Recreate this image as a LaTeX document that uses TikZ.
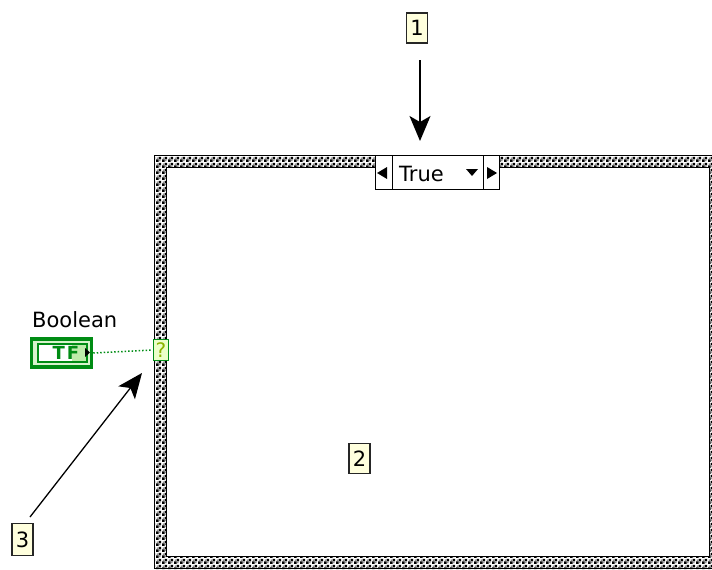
\documentclass[tikz,border=0pt]{standalone}
\usepackage{fontspec}
\setmainfont{DejaVu Sans}
\usetikzlibrary{arrows.meta,patterns.meta}
\definecolor{tgreen}{RGB}{0,140,20}
\definecolor{lightgr}{RGB}{190,235,170}
\definecolor{qfill}{RGB}{235,255,200}
\definecolor{qtext}{RGB}{140,180,0}
\definecolor{callout}{RGB}{255,255,221}
\tikzdeclarepattern{name=lvcheck,type=uncolored,
  bottom left={(0pt,0pt)},top right={(6pt,6pt)},tile size={(6pt,6pt)},
  code={\fill (0pt,0pt) rectangle (3pt,3pt); \fill (3pt,3pt) rectangle (6pt,6pt); \fill (1pt,4pt) rectangle (2pt,5pt); \fill (4pt,1pt) rectangle (5pt,2pt);}}
\tikzset{
  numbox/.style={draw=black!85,line width=1.5pt,fill=callout,minimum width=21pt,minimum height=30pt,inner sep=0pt,font=\fontsize{21}{24}\selectfont},
  callarrow/.style={draw=black,line width=1.3pt,-{Stealth[length=25pt,width=21pt,inset=6pt]}},
  lvtext/.style={font=\fontsize{21}{24}\selectfont,inner sep=0pt}
}
\begin{document}
\begin{tikzpicture}[x=1pt,y=-1pt]
\useasboundingbox (0,0) rectangle (712,570);
% case structure frame
\fill[white] (154,155) rectangle (725,569);
\fill[pattern=lvcheck,pattern color=black,even odd rule] (154,155) rectangle (725,569) (166,167) rectangle (709,556);
\draw[black,line width=1.5pt] (154.5,155.5) rectangle (725,568.5);
\draw[black,line width=1pt] (166,167) rectangle (709,556);
% selector
\node[draw=black,line width=1pt,fill=white,minimum width=124pt,minimum height=34pt,inner sep=0pt] (sel) at (437,172) {};
\draw[black,line width=1pt] (392,155) -- (392,189) (483,155) -- (483,189);
\fill[black] (377,173) -- (387,167) -- (387,179) -- cycle;
\fill[black] (497,173) -- (487,167) -- (487,179) -- cycle;
\fill[black] (466,169) -- (478,169) -- (472,176) -- cycle;
\node[lvtext,anchor=base west] (seltext) at (399,181) {True};
% callouts
\node[numbox] (n1) at (417,28) {1};
\node[numbox] (n2) at (359.5,458.5) {2};
\node[numbox,minimum height=32pt] (n3) at (22.5,539.5) {3};
\coordinate (t1) at (420,141);
\coordinate (s1) at (420,60);
\coordinate (t3) at (142,373);
\coordinate (s3) at (30,517);
\draw[callarrow] (s1) -- (t1);
\draw[callarrow] (s3) -- (t3);
% Boolean control terminal
\node[lvtext,anchor=base west] (blab) at (32,327) {Boolean};
\node[draw=tgreen,line width=3.5pt,fill=lightgr!60,minimum width=60pt,minimum height=28pt,inner sep=0pt] (bool) at (61.5,353) {};
\fill[white] (38,344) rectangle (87,362);
\fill[lightgr] (72,345) rectangle (87,361);
\draw[tgreen,line width=2pt] (38,344) rectangle (87,362);
\node[font=\bfseries\fontsize{18}{20}\selectfont,text=tgreen,inner sep=0pt] (tf) at (66,353) {T\kern2ptF};
\fill[black] (90,352.5) -- (85,348) -- (85,357) -- cycle;
% selector terminal
\node[draw=tgreen,line width=1.8pt,fill=qfill,minimum width=15pt,minimum height=21pt,inner sep=0pt,font=\fontsize{20}{22}\selectfont,text=qtext] (q) at (161,350) {?};
\draw[tgreen,line width=1.5pt,dotted] (bool.east) -- (q.west);
\end{tikzpicture}
\end{document}
